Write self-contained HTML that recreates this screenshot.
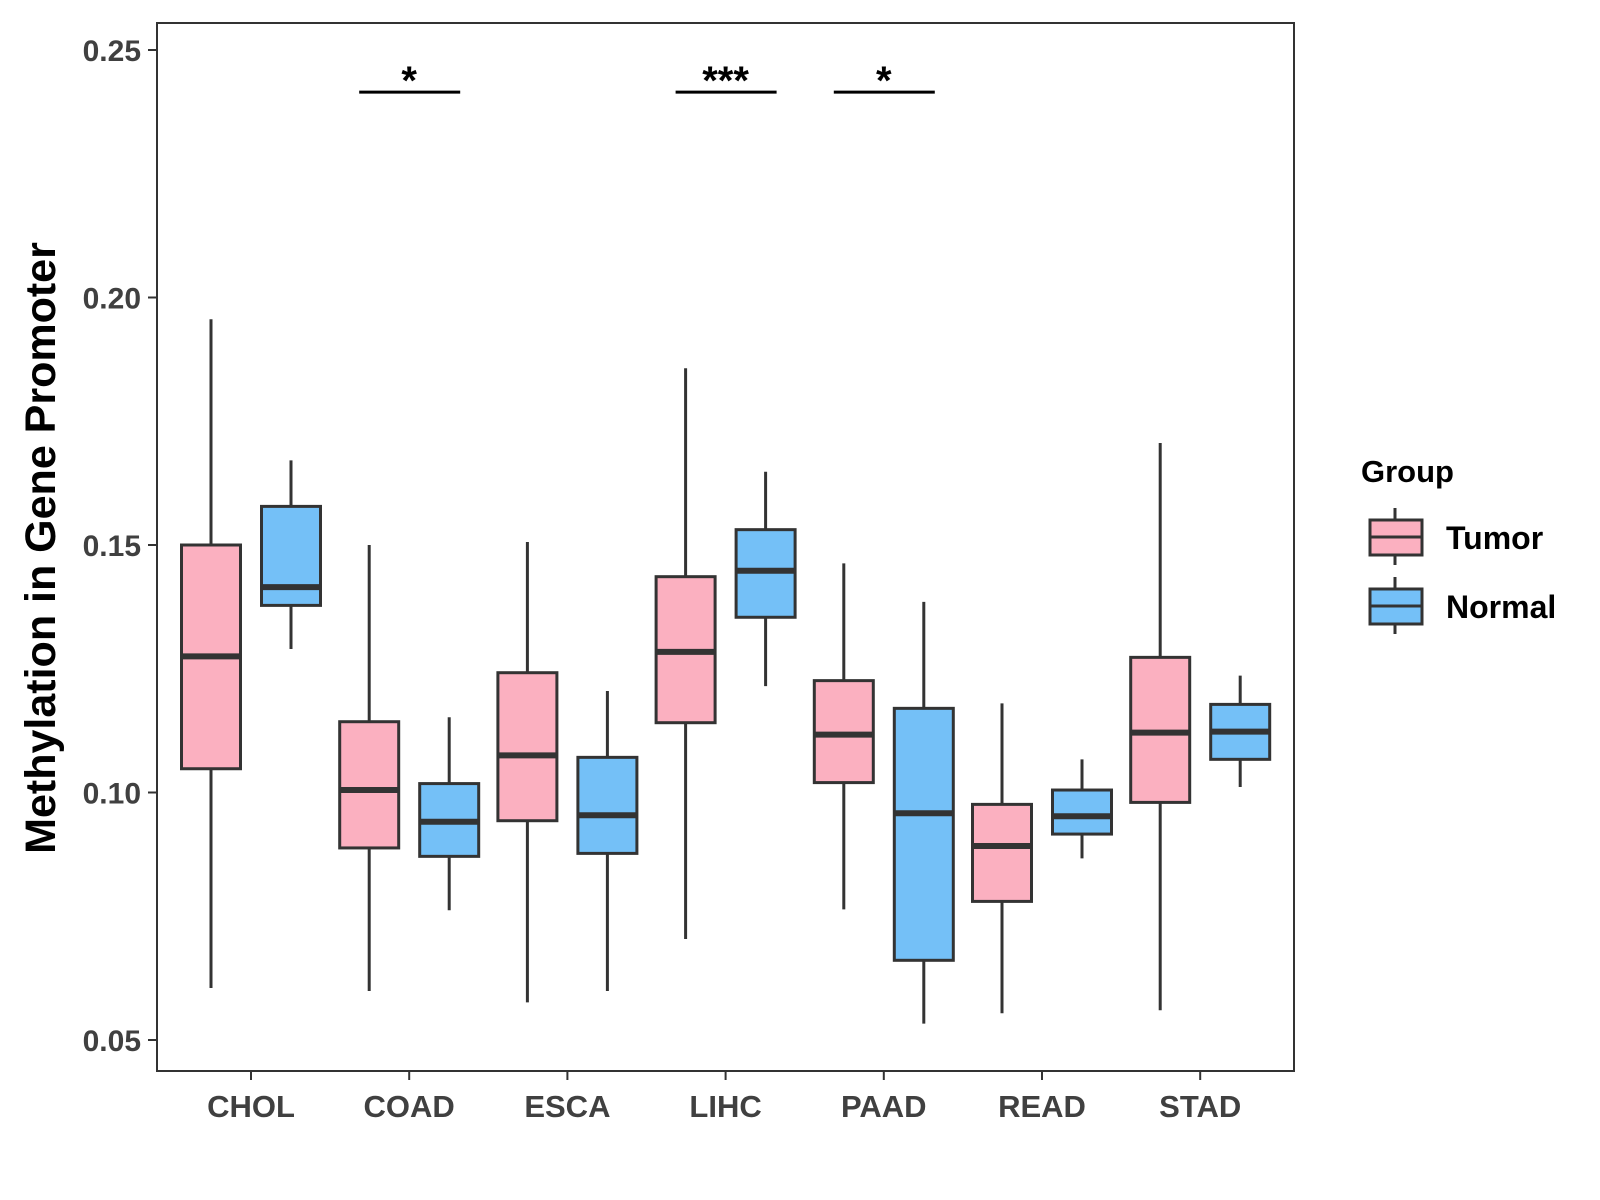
<!DOCTYPE html>
<html><head><meta charset="utf-8"><style>
html,body{margin:0;padding:0;background:#fff;}
svg{display:block;font-family:"Liberation Sans",Arial,sans-serif;font-weight:bold;}
</style></head><body>
<svg id="chart" width="1600" height="1200" viewBox="0 0 1600 1200" xmlns="http://www.w3.org/2000/svg">
<rect x="157" y="23" width="1137" height="1048" fill="#fff" stroke="#333" stroke-width="2"/>
<g id="ticks"></g><g id="boxes"></g><g id="sig"></g>
<text transform="translate(55,548) rotate(-90)" text-anchor="middle" font-size="43" fill="#000">Methylation in Gene Promoter</text>
<g>
<text x="1361" y="482" font-size="31" fill="#000">Group</text>
<g>
<line x1="1395" y1="508" x2="1395" y2="565" stroke="#333" stroke-width="3"/>
<rect x="1370" y="520" width="52" height="35" fill="#FBB0C0" stroke="#333" stroke-width="3"/>
<line x1="1370" y1="537" x2="1422" y2="537" stroke="#333" stroke-width="3"/>
<text x="1446" y="549" font-size="32" fill="#000">Tumor</text></g>
<g>
<line x1="1395" y1="577" x2="1395" y2="634" stroke="#333" stroke-width="3"/>
<rect x="1370" y="589" width="52" height="35" fill="#74C0F7" stroke="#333" stroke-width="3"/>
<line x1="1370" y1="606" x2="1422" y2="606" stroke="#333" stroke-width="3"/>
<text x="1446" y="618" font-size="32" fill="#000">Normal</text></g>
</g>
</svg>
<script>
const categories=["CHOL","COAD","ESCA","LIHC","PAAD","READ","STAD"];
// [low, q1, median, q3, high]
const tumorStats=[[0.0605,0.1048,0.1275,0.150,0.1956],[0.0599,0.0888,0.1005,0.1143,0.150],[0.0576,0.0943,0.1075,0.1242,0.1506],[0.0704,0.1141,0.1284,0.1436,0.1857],[0.0764,0.102,0.1117,0.1226,0.1463],[0.0554,0.078,0.0892,0.0976,0.118],[0.056,0.098,0.1121,0.1273,0.1706]];
const normalStats=[[0.129,0.1378,0.1415,0.1578,0.1671],[0.0762,0.0871,0.0941,0.1018,0.1152],[0.0599,0.0877,0.0954,0.1071,0.1205],[0.1215,0.1354,0.1448,0.1531,0.1648],[0.0533,0.0661,0.0958,0.117,0.1385],[0.0867,0.0916,0.0952,0.1005,0.1067],[0.1011,0.1067,0.1123,0.1178,0.1236]];
const yTicks=[0.05,0.10,0.15,0.20,0.25];
const yTickLabels=["0.05","0.10","0.15","0.20","0.25"];
const sigCats=["COAD","LIHC","PAAD"];
const sigLabels=["*","***","*"];
const sigLevel=0.2415;
const NS="http://www.w3.org/2000/svg";
const y=v=>1040-(v-0.05)/0.05*247.5;
const x=i=>251+i*158.2;
function mk(tag,attrs,parent){const e=document.createElementNS(NS,tag);for(const k in attrs)e.setAttribute(k,attrs[k]);parent.appendChild(e);return e;}
const T=document.getElementById('ticks'),B=document.getElementById('boxes'),S=document.getElementById('sig');
yTicks.forEach((v,i)=>{
 const l=mk('line',{x1:148,x2:157,y1:y(v),y2:y(v),stroke:'#333','stroke-width':2},T);
 
 
 const t=mk('text',{x:141,y:y(v)+11,'text-anchor':'end','font-size':30,fill:'#404040'},T);
 t.textContent=yTickLabels[i];
 
 
});
categories.forEach((c,i)=>{
 const l=mk('line',{x1:x(i),x2:x(i),y1:1071,y2:1080,stroke:'#333','stroke-width':2},T);
 
 
 const t=mk('text',{x:x(i),y:1117,'text-anchor':'middle','font-size':31,fill:'#404040'},T);
 t.textContent=c;
 
 
 [[tumorStats[i],-40,'#FBB0C0','tumor'],[normalStats[i],40,'#74C0F7','normal']].forEach(([s,off,col,nm])=>{
  const cx=x(i)+off,w=59;
  const g=mk('g',{},B);
  
  
  mk('line',{x1:cx,x2:cx,y1:y(s[4]),y2:y(s[0]),stroke:'#333','stroke-width':3},g);
  mk('rect',{x:cx-w/2,y:y(s[3]),width:w,height:y(s[1])-y(s[3]),fill:col,stroke:'#333','stroke-width':3},g);
  mk('line',{x1:cx-w/2,x2:cx+w/2,y1:y(s[2]),y2:y(s[2]),stroke:'#333','stroke-width':6},g);
 });
});
sigCats.forEach((c,k)=>{
 const i=categories.indexOf(c);
 const l=mk('line',{x1:x(i)-50,x2:x(i)+51,y1:y(sigLevel),y2:y(sigLevel),stroke:'#000','stroke-width':3},S);
 
 
 const t=mk('text',{x:x(i),y:y(sigLevel)+2,'text-anchor':'middle','font-size':40,fill:'#000'},S);
 t.textContent=sigLabels[k];
 
 
});
</script>
</body></html>
